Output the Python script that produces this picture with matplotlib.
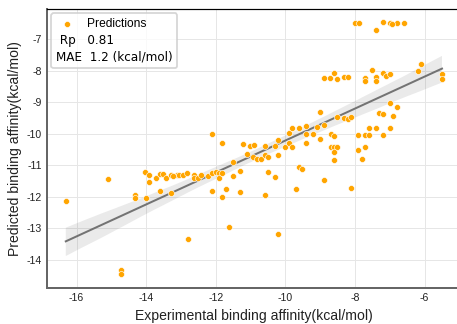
import matplotlib
matplotlib.use("Agg")
import matplotlib.pyplot as plt
import seaborn as sns
import numpy as np
from matplotlib.lines import Line2D

# ---- data ----
experimental = [
    -16.31, -15.11, -14.71, -14.71, -14.31, -14.31, -14.02, -14.01, -13.91, -13.91,
    -13.72, -13.61, -13.51, -13.61, -13.43, -13.30, -13.30, -13.12, -13.05, -12.93,
    -12.84, -12.80, -12.62, -12.62, -12.51, -12.43, -12.21, -12.11, -12.11, -12.11,
    -11.99, -11.92, -11.90, -11.83, -11.81, -11.82, -11.72, -11.62, -11.50, -11.50,
    -11.30, -11.30, -11.22, -11.10, -11.01, -10.90, -10.92, -10.81, -10.70, -10.60,
    -10.60, -10.51, -10.51, -10.60, -10.31, -10.30, -10.20, -10.20, -10.20, -10.01,
    -9.91, -9.91, -9.80, -9.80, -9.70, -9.61, -9.60, -9.51, -9.41, -9.41,
    -9.41, -9.20, -9.10, -9.00, -9.00, -8.90, -8.90, -8.90, -8.71, -8.70,
    -8.60, -8.51, -8.51, -8.60, -8.70, -8.60, -8.51, -8.60, -8.60, -8.31,
    -8.21, -8.11, -8.31, -8.21, -8.11, -8.01, -7.89, -7.90, -7.90, -7.80,
    -7.70, -7.70, -7.70, -7.70, -7.59, -7.59, -7.50, -7.40, -7.40, -7.40,
    -7.39, -7.30, -7.20, -7.20, -7.20, -7.20, -7.10, -7.00, -7.00, -7.00,
    -7.00, -6.91, -6.80, -6.80, -6.60, -6.20, -6.10, -5.50, -5.50, -6.93,
    -13.22,
]
predicted = [
    -12.14, -11.44, -14.32, -14.44, -11.95, -12.05, -11.20, -12.03, -11.29, -11.53,
    -11.40, -11.27, -11.27, -11.82, -11.40, -11.29, -11.89, -11.31, -11.29, -11.31,
    -11.25, -13.34, -11.29, -11.41, -11.40, -11.31, -11.34, -11.23, -10.01, -11.80,
    -11.21, -11.23, -11.41, -11.23, -10.28, -12.00, -11.75, -12.94, -10.89, -11.34,
    -11.18, -11.84, -10.33, -10.63, -10.38, -10.36, -10.73, -10.81, -10.81, -10.39,
    -10.67, -10.73, -11.22, -11.93, -11.38, -10.37, -10.21, -10.67, -13.18, -10.43,
    -9.96, -10.29, -9.82, -10.43, -11.75, -9.82, -11.04, -11.11, -9.75, -9.99,
    -10.30, -9.99, -9.78, -9.31, -10.17, -9.72, -11.46, -8.24, -8.24, -9.99,
    -8.07, -8.25, -9.45, -10.08, -10.43, -10.43, -10.43, -10.59, -10.82, -9.50,
    -9.54, -9.45, -8.21, -8.21, -11.72, -6.47, -6.47, -10.04, -10.52, -10.81,
    -10.04, -10.43, -8.22, -8.32, -9.82, -10.04, -7.98, -8.21, -8.32, -6.71,
    -9.82, -9.34, -9.36, -8.06, -6.45, -10.04, -8.17, -8.09, -6.47, -9.03,
    -9.82, -9.43, -9.14, -6.47, -6.47, -8.01, -7.79, -8.10, -8.27, -6.51,
    -11.34,
]
x_ticks = [-16, -14, -12, -10, -8, -6]
y_ticks = [-14, -13, -12, -11, -10, -9, -8, -7]
legend_labels = ["Predictions", " Rp   0.81", "MAE  1.2 (kcal/mol)"]
x_label = "Experimental binding affinity(kcal/mol)"
y_label = "Predicted binding affinity(kcal/mol)"

plt.rcParams["font.family"] = ["Liberation Sans", "DejaVu Sans"]
plt.rcParams["axes.unicode_minus"] = False

W, H = 457, 324
fig = plt.figure(figsize=(W / 72, H / 72), dpi=72)
ax = fig.add_axes([47 / W, 36 / H, 413.8 / W, 279 / H])

ax.grid(True, color="#e6e6e6", lw=1.0, zorder=0)
ax.set_axisbelow(True)

sns.regplot(x=np.array(experimental), y=np.array(predicted), ax=ax, scatter=False,
            color="#7a7a7a", line_kws=dict(lw=2.0, color="#737373"), seed=0, n_boot=1000)

sc = ax.scatter(experimental, predicted, s=36, color="#FFA500", edgecolor="white",
                linewidth=0.6, zorder=3)

ax.set_xlim(-16.85, -4.96)
ax.set_ylim(-14.89, -6.04)
ax.set_xticks(x_ticks)
ax.set_yticks(y_ticks)
ax.tick_params(axis="both", length=0, pad=5, labelsize=10.5, colors="#222222")

ax.spines["right"].set_visible(False)
ax.spines["top"].set_color("black")
ax.spines["top"].set_linewidth(1.2)
for side in ["left", "bottom"]:
    ax.spines[side].set_color("#666666")
    ax.spines[side].set_linewidth(2.0)

ax.set_xlabel(x_label, fontsize=14, color="#222222", labelpad=6)
ax.set_ylabel(y_label, fontsize=14, color="#222222", labelpad=5)

blank = Line2D([], [], linestyle="none")
leg = ax.legend(handles=[sc, blank, blank], labels=legend_labels, loc="upper left",
                fontsize=12, handlelength=1.8, handletextpad=0.8,
                borderaxespad=0.35, labelspacing=0.3, borderpad=0.4,
                frameon=True, fancybox=True)
leg.get_frame().set_edgecolor("#cccccc")
leg.get_frame().set_linewidth(1.8)
texts = leg.get_texts()
texts[0].set_fontfamily("Liberation Sans")
for t in texts[1:]:
    t.set_fontfamily("DejaVu Sans")
# remove handle space for the two text-only rows
col = leg._legend_handle_box.get_children()[0]
for hp in col.get_children()[1:]:
    da, ta = hp.get_children()
    da.width = 0
    hp.sep = 0

fig.savefig("out.png", dpi=72)
